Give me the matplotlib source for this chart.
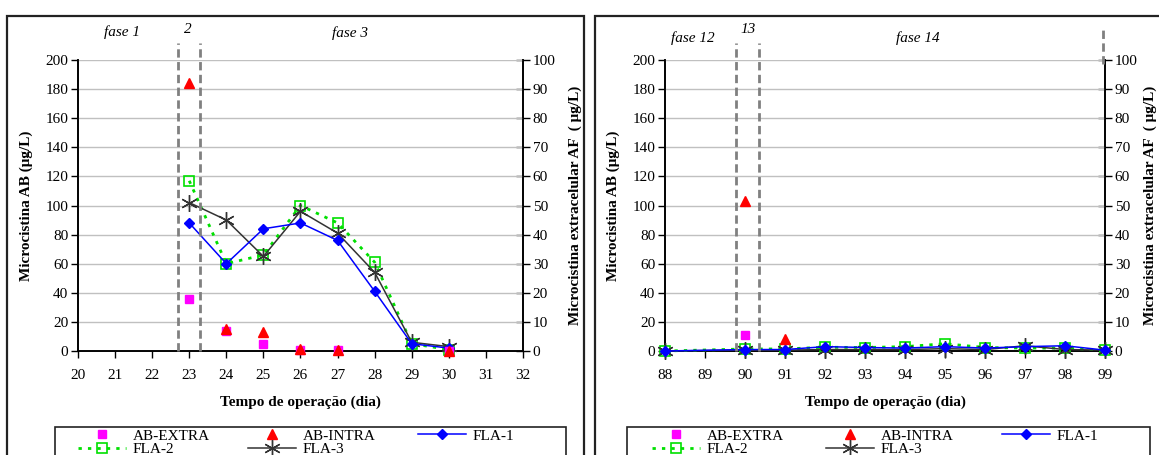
import matplotlib
matplotlib.use("Agg")
import matplotlib.pyplot as plt
from matplotlib.patches import Rectangle
from matplotlib.lines import Line2D
from matplotlib.transforms import blended_transform_factory

plt.rcParams['font.family'] = ['Liberation Serif', 'DejaVu Serif']

# ---- data: phases 1-3 (days 20-32) ----
days_ab_a = [23, 24, 25, 26, 27, 30]
ab_extra_a = [36, 14, 5, 1, 0.5, 0]
ab_intra_a = [184, 15, 13, 1.5, 0.5, 0]
days_fla_a = [23, 24, 25, 26, 27, 28, 29, 30]
fla1_a = [44, 30, 42, 44, 38, 20.5, 2.5, 1]
fla2_a = [58.5, 30, 33, 50, 44, 30.5, 2.5, 0.5]
fla3_a = [51, 45, 32.5, 48, 40.5, 27, 3, 1.5]

# ---- data: phases 12-14 (days 88-99) ----
days_ab_b_extra = [90]
ab_extra_b = [11]
days_ab_b_intra = [90, 91]
ab_intra_b = [103, 8]
days_fla_b = [88, 90, 91, 92, 93, 94, 95, 96, 97, 98, 99]
fla1_b = [0, 0.5, 0.5, 1.5, 1.2, 1.0, 1.5, 1.0, 1.5, 1.8, 0.3]
fla2_b = [0, 0.7, 0.7, 1.3, 1.2, 1.5, 2.5, 1.2, 1.0, 1.0, 0.3]
fla3_b = [0, 0.3, 0.3, 0.5, 0.5, 0.5, 0.8, 0.5, 1.8, 0.5, 0.3]

W, H = 1159, 455
fig = plt.figure(figsize=(W / 100, H / 100), dpi=100)
fig.patch.set_facecolor('white')

FS = 11
C_EXTRA = '#ff00ff'
C_INTRA = '#ff0000'
C_FLA1 = '#0000ff'
C_FLA2 = '#00e000'
C_FLA3 = '#333333'
C_DASH = '#808080'
asterisk = (6, 2, 0)


def px(x0, y0, x1, y1):
    return [x0 / W, 1 - y1 / H, (x1 - x0) / W, (y1 - y0) / H]


def h_extra():
    return Line2D([], [], ls='none', marker='s', ms=6, color=C_EXTRA)


def h_intra():
    return Line2D([], [], ls='none', marker='^', ms=7, color=C_INTRA)


def h_fla1():
    return Line2D([], [], color=C_FLA1, lw=1.1, marker='D', ms=5)


def h_fla2():
    return Line2D([], [], color=C_FLA2, lw=2.0, ls=(0, (1.2, 2.2)),
                  marker='s', ms=7, mfc='none', mec=C_FLA2, mew=1.2)


def h_fla3():
    return Line2D([], [], color=C_FLA3, lw=1.1, marker=asterisk, ms=12,
                  mew=1.0)


def panel(rect, xlim, ab_sets, fla_days, fla1, fla2, fla3, dashes, top_dash,
          phases, frame, legend_box, legend_cols, right_pad):
    ax = fig.add_axes(px(*rect))
    ax2 = ax.twinx()
    ax.set_zorder(ax2.get_zorder() + 1)
    ax.patch.set_visible(False)

    ax.set_xlim(*xlim)
    ax.set_ylim(0, 200)
    ax2.set_ylim(0, 100)
    ax.set_xticks(range(xlim[0], xlim[1] + 1))
    ax.set_yticks(range(0, 201, 20))
    ax2.set_yticks(range(0, 101, 10))
    ax.yaxis.grid(True, color='#c0c0c0', lw=1.0)
    ax.set_axisbelow(True)

    for a in (ax, ax2):
        a.spines['top'].set_visible(False)
        for s in ('left', 'right', 'bottom'):
            a.spines[s].set_color('black')
            a.spines[s].set_linewidth(1.2)
    ax.tick_params(axis='x', direction='out', length=5, width=1.0,
                   labelsize=FS, pad=8)
    ax.tick_params(axis='y', direction='out', length=5, width=1.0,
                   labelsize=FS, pad=2)
    ax2.tick_params(axis='y', direction='inout', length=10, width=1.0,
                    labelsize=FS, pad=2)

    (d_e, v_e), (d_i, v_i) = ab_sets
    ax.plot(d_e, v_e, ls='none', marker='s', ms=6, color=C_EXTRA,
            mec=C_EXTRA, clip_on=False, zorder=5)
    ax.plot(d_i, v_i, ls='none', marker='^', ms=7, color=C_INTRA,
            mec=C_INTRA, clip_on=False, zorder=5)
    ax.plot(fla_days, fla1, color=C_FLA1, lw=1.1, marker='D', ms=5,
            transform=ax2.transData, clip_on=False, zorder=4)
    ax.plot(fla_days, fla2, color=C_FLA2, lw=2.0, ls=(0, (1.2, 2.2)),
            marker='s', ms=7, mfc='none', mec=C_FLA2, mew=1.2,
            transform=ax2.transData, clip_on=False, zorder=3)
    ax.plot(fla_days, fla3, color=C_FLA3, lw=1.1, marker=asterisk, ms=12,
            mew=1.0, transform=ax2.transData, clip_on=False, zorder=3)

    tr = blended_transform_factory(ax.transData, ax.transAxes)
    for xd in dashes:
        ax.plot([xd, xd], [0, 1.058], transform=tr, color=C_DASH, lw=2.0,
                ls=(0, (3, 1.6)), clip_on=False, zorder=6)
    if top_dash is not None:
        ax.plot([top_dash, top_dash], [0.985, 1.11], transform=tr,
                color=C_DASH, lw=2.0, ls=(0, (3, 1.6)), clip_on=False,
                zorder=6)
    for (xd, yf, txt) in phases:
        ax.text(xd, yf, txt, transform=tr, ha='center', va='center',
                fontsize=FS, style='italic')

    ax.set_xlabel('Tempo de operação (dia)', fontsize=FS, fontweight='bold',
                  labelpad=10)
    ax.set_ylabel('Microcistina AB (μg/L)', fontsize=FS, fontweight='bold',
                  labelpad=9)
    ax2.set_ylabel('Microcistina extracelular AF  ( μg/L)', fontsize=FS,
                   fontweight='bold', labelpad=right_pad)

    # panel frame and legend box
    fx0, fy0, fx1, fy1 = frame
    fig.patches.append(Rectangle((fx0 / W, 1 - fy1 / H), (fx1 - fx0) / W,
                                 (fy1 - fy0) / H, transform=fig.transFigure,
                                 fill=False, ec='#222222', lw=1.6))
    lx0, ly0, lx1, ly1 = legend_box
    fig.patches.append(Rectangle((lx0 / W, 1 - ly1 / H), (lx1 - lx0) / W,
                                 (ly1 - ly0) / H, transform=fig.transFigure,
                                 fill=False, ec='#222222', lw=1.2))

    columns = [([h_extra(), h_fla2()], ['AB-EXTRA', 'FLA-2']),
               ([h_intra(), h_fla3()], ['AB-INTRA', 'FLA-3']),
               ([h_fla1()], ['FLA-1'])]
    for xc, (hs, ls) in zip(legend_cols, columns):
        fig.legend(hs, ls, loc='upper left',
                   bbox_to_anchor=(xc / W, 1 - (ly0 + 2) / H),
                   frameon=False, fontsize=FS, handlelength=3.15,
                   handletextpad=0.45, labelspacing=0.0,
                   borderpad=0.0, borderaxespad=0.0)
    return ax


panel((78, 60, 523, 351), (20, 32),
      ((days_ab_a, ab_extra_a), (days_ab_a, ab_intra_a)),
      days_fla_a, fla1_a, fla2_a, fla3_a,
      dashes=[22.7, 23.3], top_dash=None,
      phases=[(21.2, 1.095, 'fase 1'), (22.97, 1.105, '2'),
              (27.33, 1.092, 'fase 3')],
      frame=(7, 16, 584, 470), legend_box=(55, 427, 566, 470),
      legend_cols=[78, 248, 418], right_pad=9)

panel((665, 60, 1105, 351), (88, 99),
      ((days_ab_b_extra, ab_extra_b), (days_ab_b_intra, ab_intra_b)),
      days_fla_b, fla1_b, fla2_b, fla3_b,
      dashes=[89.78, 90.35], top_dash=98.95,
      phases=[(88.7, 1.075, 'fase 12'), (90.08, 1.105, '13'),
              (94.33, 1.075, 'fase 14')],
      frame=(595, 16, 1175, 470), legend_box=(627, 427, 1150, 470),
      legend_cols=[652, 826, 1002], right_pad=4)

fig.savefig('out.png', dpi=100)
